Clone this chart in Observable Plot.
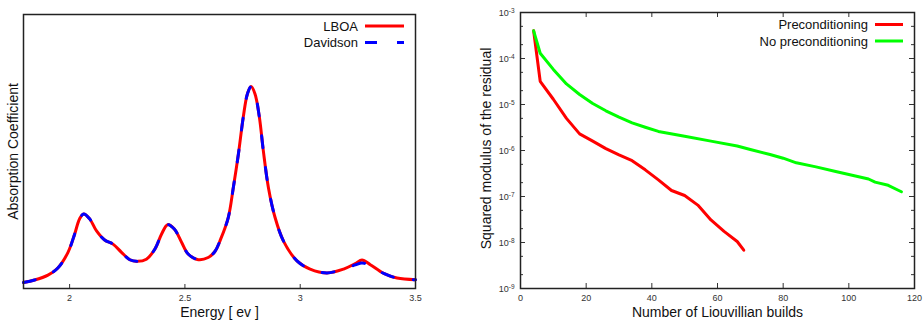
<!DOCTYPE html>
<html><head><meta charset="utf-8">
<script src="https://cdn.jsdelivr.net/npm/d3@7"></script>
<script src="https://cdn.jsdelivr.net/npm/@observablehq/plot@0.6"></script>
<style>
body{margin:0;background:#fff;}
#wrap{display:flex;width:923px;height:320px;}
#wrap svg{font-family:"Liberation Sans",Arial,sans-serif;display:block;}
</style></head><body><div id="wrap"></div>
<script>
// ---- Left panel: absorption spectrum ----
const energy   = [1.8, 1.848, 1.906, 1.949, 1.993, 2.022, 2.043, 2.061, 2.087, 2.116, 2.152, 2.188, 2.225, 2.261, 2.294, 2.333, 2.37, 2.399, 2.425, 2.454, 2.486, 2.514, 2.558, 2.601, 2.63, 2.655, 2.688, 2.71, 2.732, 2.753, 2.771, 2.787, 2.804, 2.823, 2.84, 2.862, 2.891, 2.927, 2.986, 3.043, 3.116, 3.188, 3.239, 3.268, 3.304, 3.362, 3.42, 3.5];
const lboa     = [0.022, 0.031, 0.049, 0.075, 0.132, 0.199, 0.254, 0.272, 0.254, 0.211, 0.177, 0.162, 0.132, 0.105, 0.099, 0.107, 0.144, 0.199, 0.233, 0.217, 0.168, 0.126, 0.105, 0.113, 0.135, 0.18, 0.259, 0.369, 0.491, 0.625, 0.71, 0.737, 0.71, 0.625, 0.503, 0.369, 0.259, 0.174, 0.101, 0.071, 0.057, 0.071, 0.091, 0.104, 0.087, 0.055, 0.038, 0.032];
const davidson = [0.022, 0.031, 0.049, 0.075, 0.132, 0.199, 0.254, 0.272, 0.254, 0.211, 0.177, 0.162, 0.132, 0.105, 0.099, 0.107, 0.144, 0.199, 0.233, 0.217, 0.168, 0.126, 0.105, 0.113, 0.135, 0.18, 0.259, 0.369, 0.491, 0.625, 0.71, 0.737, 0.71, 0.625, 0.503, 0.369, 0.259, 0.174, 0.101, 0.071, 0.057, 0.071, 0.086, 0.093, 0.083, 0.055, 0.038, 0.032];
const energyTicks = [2, 2.5, 3, 3.5];
const energyTickLabels = ["2", "2.5", "3", "3.5"];

// ---- Right panel: convergence ----
const buildsPre   = [4, 6, 10, 14, 18, 22, 26, 30, 34, 38, 42, 46, 50, 54, 58, 62, 66, 68];
const residualPre = [4e-4, 3.2e-5, 1.3e-5, 5e-6, 2.3e-6, 1.6e-6, 1.1e-6, 8e-7, 6e-7, 3.8e-7, 2.3e-7, 1.35e-7, 1.05e-7, 6.5e-8, 3.1e-8, 1.75e-8, 1.05e-8, 6.8e-9];
const buildsNo    = [4, 6, 10, 14, 18, 22, 26, 30, 34, 38, 42, 50, 58, 66, 70, 76, 80, 84, 90, 96, 102, 106, 108, 112, 116];
const residualNo  = [4e-4, 1.3e-4, 5.8e-5, 2.8e-5, 1.65e-5, 1.05e-5, 7.3e-6, 5.3e-6, 4e-6, 3.2e-6, 2.6e-6, 2.05e-6, 1.6e-6, 1.25e-6, 1.05e-6, 8.2e-7, 6.8e-7, 5.4e-7, 4.4e-7, 3.5e-7, 2.8e-7, 2.4e-7, 2.05e-7, 1.75e-7, 1.27e-7];
const buildTicks = [0, 20, 40, 60, 80, 100, 120];
const residualTicks = [1e-9, 1e-8, 1e-7, 1e-6, 1e-5, 1e-4, 1e-3];
const residualMinor = [2e-9, 5e-9, 2e-8, 5e-8, 2e-7, 5e-7, 2e-6, 5e-6, 2e-5, 5e-5, 2e-4, 5e-4];

const FONT = "Liberation Sans, Arial, sans-serif";
const spectrum = energy.map((e, i) => ({e, lboa: lboa[i], dav: davidson[i]}));
const pre = buildsPre.map((b, i) => ({b, r: residualPre[i]}));
const nopre = buildsNo.map((b, i) => ({b, r: residualNo[i]}));

// Left
const LW = 440, LH = 320, LML = 23, LMR = 25, LMT = 14, LMB = 32;
const lInnerH = LH - LMT - LMB;
const left = Plot.plot({
  width: LW, height: LH, marginLeft: LML, marginRight: LMR, marginTop: LMT, marginBottom: LMB,
  style: {fontFamily: FONT, background: "white", overflow: "visible"},
  x: {domain: [1.8, 3.5]},
  y: {domain: [0, 1], axis: null},
  marks: [
    Plot.axisX(energyTicks, {tickSize: 0, tickPadding: 6, fontSize: 9, color: "#333", label: null,
      tickFormat: d => energyTickLabels[energyTicks.indexOf(d)]}),
    Plot.tickX(energyTicks, {x: d => d, insetTop: lInnerH - 4, stroke: "#333", strokeWidth: 1}),
    Plot.line(spectrum, {x: "e", y: "lboa", stroke: "#ff0000", strokeWidth: 3, curve: "catmull-rom"}),
    Plot.line(spectrum, {x: "e", y: "dav", stroke: "#0000ff", strokeWidth: 3, strokeDasharray: "12,20", curve: "catmull-rom"}),
    Plot.frame({stroke: "#222", strokeWidth: 1.5}),
    Plot.text(["Energy [ ev ]"], {text: d => d, frameAnchor: "bottom", textAnchor: "middle", lineAnchor: "middle", dy: 24, fontSize: 14, fill: "#111"}),
    Plot.text(["Absorption Coefficient"], {text: d => d, frameAnchor: "left", textAnchor: "middle", lineAnchor: "middle", rotate: -90, dx: -10, fontSize: 14, fill: "#111"})
  ]
});

// Right
const RW = 483, RH = 320, RML = 80, RMR = 9, RMT = 12, RMB = 32;
const rInnerW = RW - RML - RMR, rInnerH = RH - RMT - RMB;
const right = Plot.plot({
  width: RW, height: RH, marginLeft: RML, marginRight: RMR, marginTop: RMT, marginBottom: RMB,
  style: {fontFamily: FONT, background: "white", overflow: "visible"},
  x: {domain: [0, 120]},
  y: {type: "log", domain: [1e-9, 1e-3]},
  marks: [
    Plot.axisX(buildTicks, {tickSize: 0, tickPadding: 6, fontSize: 9, color: "#333", label: null, tickFormat: d => String(d)}),
    Plot.axisY(residualTicks, {tickSize: 0, tickPadding: 6, fontSize: 9, color: "#333", label: null, dy: 1,
      tickFormat: d => "10^" + Math.round(Math.log10(d))}),
    Plot.tickX(buildTicks, {x: d => d, insetTop: rInnerH - 5, stroke: "#333"}),
    Plot.tickX(buildTicks, {x: d => d, insetBottom: rInnerH - 5, stroke: "#333"}),
    Plot.tickY(residualTicks, {y: d => d, insetRight: rInnerW - 5, stroke: "#333"}),
    Plot.tickY(residualTicks, {y: d => d, insetLeft: rInnerW - 5, stroke: "#333"}),
    Plot.tickY(residualMinor, {y: d => d, insetRight: rInnerW - 3, stroke: "#333"}),
    Plot.tickY(residualMinor, {y: d => d, insetLeft: rInnerW - 3, stroke: "#333"}),
    Plot.line(pre, {x: "b", y: "r", stroke: "#ff0000", strokeWidth: 3}),
    Plot.line(nopre, {x: "b", y: "r", stroke: "#00ff00", strokeWidth: 3}),
    Plot.frame({stroke: "#222", strokeWidth: 1.5}),
    Plot.text(["Number of Liouvillian builds"], {text: d => d, frameAnchor: "bottom", textAnchor: "middle", lineAnchor: "middle", dy: 24, fontSize: 14, fill: "#111"}),
    Plot.text(["Squared modulus of the residual"], {text: d => d, frameAnchor: "left", textAnchor: "middle", lineAnchor: "middle", rotate: -90, dx: -34, dy: -2, fontSize: 14, fill: "#111"})
  ]
});

// superscript exponents
d3.select(right).selectAll("text").each(function () {
  const m = /^10\^(-?\d+)$/.exec(this.textContent);
  if (m) {
    const s = d3.select(this);
    s.text(null);
    s.append("tspan").text("10");
    s.append("tspan").attr("dy", "-0.5em").attr("font-size", "6.5px").text(m[1]);
  }
});

// legends
function legend(svg, items, xText, x1, x2) {
  const g = d3.select(svg).append("g").attr("font-family", FONT).attr("font-size", 13);
  items.forEach(it => {
    g.append("text").attr("x", xText).attr("y", it.y).attr("dy", "0.35em")
      .attr("text-anchor", "end").attr("fill", "#111").text(it.label);
    const ln = g.append("line").attr("x1", x1).attr("x2", x2).attr("y1", it.y).attr("y2", it.y)
      .attr("stroke", it.color).attr("stroke-width", 3);
    if (it.dash) ln.attr("stroke-dasharray", it.dash);
  });
}
legend(left, [
  {label: "LBOA", y: 26, color: "#ff0000"},
  {label: "Davidson", y: 42.5, color: "#0000ff", dash: "12,20"}
], 358, 365, 404);
legend(right, [
  {label: "Preconditioning", y: 24.5, color: "#ff0000"},
  {label: "No preconditioning", y: 41, color: "#00ff00"}
], 428, 435, 463);

const wrap = document.getElementById("wrap");
wrap.appendChild(left);
wrap.appendChild(right);
</script></body></html>
